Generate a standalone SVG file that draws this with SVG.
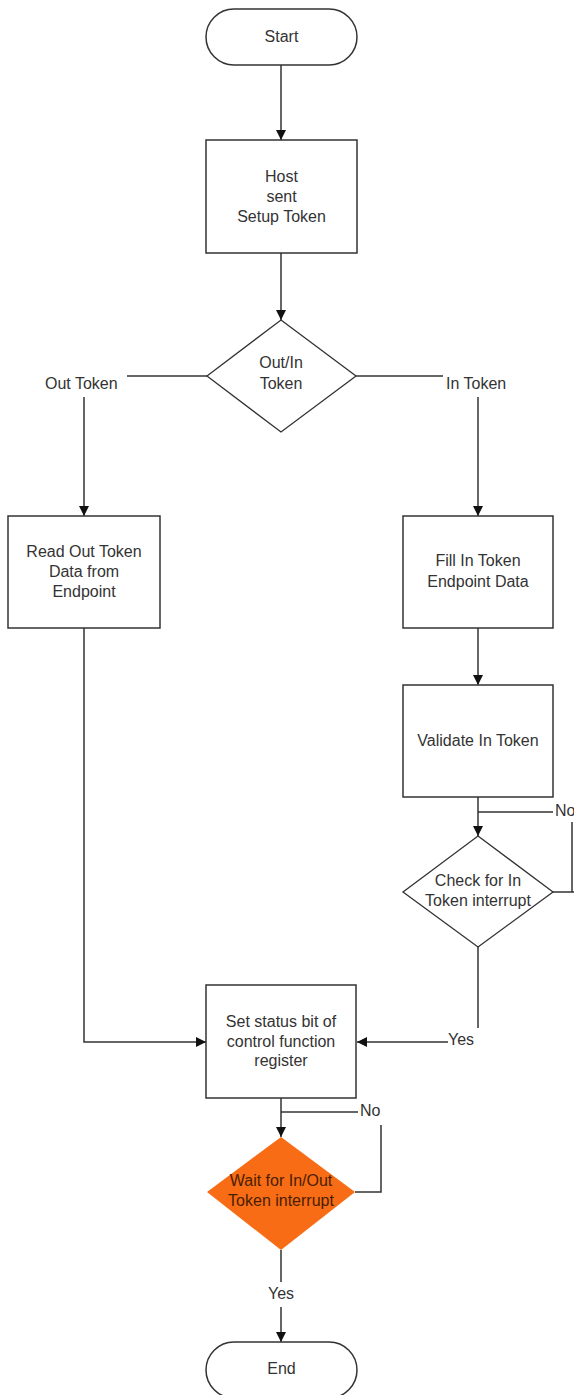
<svg xmlns="http://www.w3.org/2000/svg" width="574" height="1395" viewBox="0 0 574 1395">
<defs>
<marker id="arr" viewBox="0 0 10 10" refX="10" refY="5" markerWidth="10" markerHeight="10" markerUnits="userSpaceOnUse" orient="auto">
<path d="M0,0 L10,5 L0,10 Z" fill="#111"/>
</marker>
<style>
.box{fill:#fff;stroke:#333;stroke-width:1.5}
.dec{fill:#fff;stroke:#333;stroke-width:1.3}
.org{fill:#F86C15;stroke:none}
.ln{fill:none;stroke:#333;stroke-width:1.5}
.la{fill:none;stroke:#333;stroke-width:1.5;marker-end:url(#arr)}
text{font-family:"Liberation Sans",Arial,sans-serif;font-size:16px;fill:#333;text-anchor:middle}
.lbl{text-anchor:start}
.dk{fill:#4a1e00}
</style>
</defs>
<rect width="574" height="1395" fill="#fff"/>
<g id="connectors">
<line class="la" x1="281" y1="65" x2="281" y2="140"/>
<line class="la" x1="281" y1="253" x2="281" y2="320"/>
<polyline class="ln" points="207,376 127,376"/>
<line class="la" x1="84" y1="397" x2="84" y2="516"/>
<polyline class="ln" points="356,376 443,376"/>
<line class="la" x1="478" y1="397" x2="478" y2="516"/>
<line class="la" x1="478" y1="628" x2="478" y2="685"/>
<line class="la" x1="478" y1="797" x2="478" y2="836"/>
<polyline class="ln" points="478,812 553,812"/>
<polyline class="ln" points="553,892 574,892"/>
<polyline class="ln" points="572,822 572,892"/>
<polyline class="ln" points="478,947 478,1028"/>
<line class="la" x1="448" y1="1042" x2="357" y2="1042"/>
<polyline class="la" points="84,628 84,1042 206,1042"/>
<line class="la" x1="281" y1="1098" x2="281" y2="1137"/>
<polyline class="ln" points="281,1112 358,1112"/>
<polyline class="ln" points="381,1125 381,1192 355,1192"/>
<line class="ln" x1="281" y1="1250" x2="281" y2="1282"/>
<line class="la" x1="281" y1="1307" x2="281" y2="1342"/>
<text class="lbl" x="45" y="389">Out Token</text>
<text class="lbl" x="446" y="389">In Token</text>
<text class="lbl" x="555" y="816">No</text>
<text class="lbl" x="448" y="1045">Yes</text>
<text class="lbl" x="360" y="1116">No</text>
<text x="281" y="1299">Yes</text>
</g>
<g id="start">
<rect class="box" x="206" y="9" width="151" height="56" rx="28" ry="28"/>
<text x="281.5" y="42">Start</text>
</g>
<g id="host">
<rect class="box" x="206" y="140" width="151" height="113"/>
<text x="281.5" y="182">Host</text>
<text x="281.5" y="202">sent</text>
<text x="281.5" y="222">Setup Token</text>
</g>
<g id="outin">
<polygon class="dec" points="281,320 356,376 281,432 207,376"/>
<text x="281" y="368">Out/In</text>
<text x="281" y="389">Token</text>
</g>
<g id="readout">
<rect class="box" x="8" y="516" width="152" height="112"/>
<text x="84" y="557">Read Out Token</text>
<text x="84" y="577">Data from</text>
<text x="84" y="597">Endpoint</text>
</g>
<g id="fillin">
<rect class="box" x="403" y="516" width="150" height="112"/>
<text x="478" y="566">Fill In Token</text>
<text x="478" y="587">Endpoint Data</text>
</g>
<g id="validate">
<rect class="box" x="403" y="685" width="150" height="112"/>
<text x="478" y="746">Validate In Token</text>
</g>
<g id="checkin">
<polygon class="dec" points="478,836 553,892 478,947 403,892"/>
<text x="478" y="886">Check for In</text>
<text x="478" y="906">Token interrupt</text>
</g>
<g id="setstatus">
<rect class="box" x="206" y="985" width="150" height="113"/>
<text x="281" y="1027">Set status bit of</text>
<text x="281" y="1047">control function</text>
<text x="281" y="1066">register</text>
</g>
<g id="waitinout">
<polygon class="org" points="281,1137 355,1192 281,1250 207,1192"/>
<text class="dk" x="281" y="1186">Wait for In/Out</text>
<text class="dk" x="281" y="1206">Token interrupt</text>
</g>
<g id="end">
<rect class="box" x="206" y="1342" width="151" height="56" rx="28" ry="28"/>
<text x="281.5" y="1374">End</text>
</g>
</svg>
